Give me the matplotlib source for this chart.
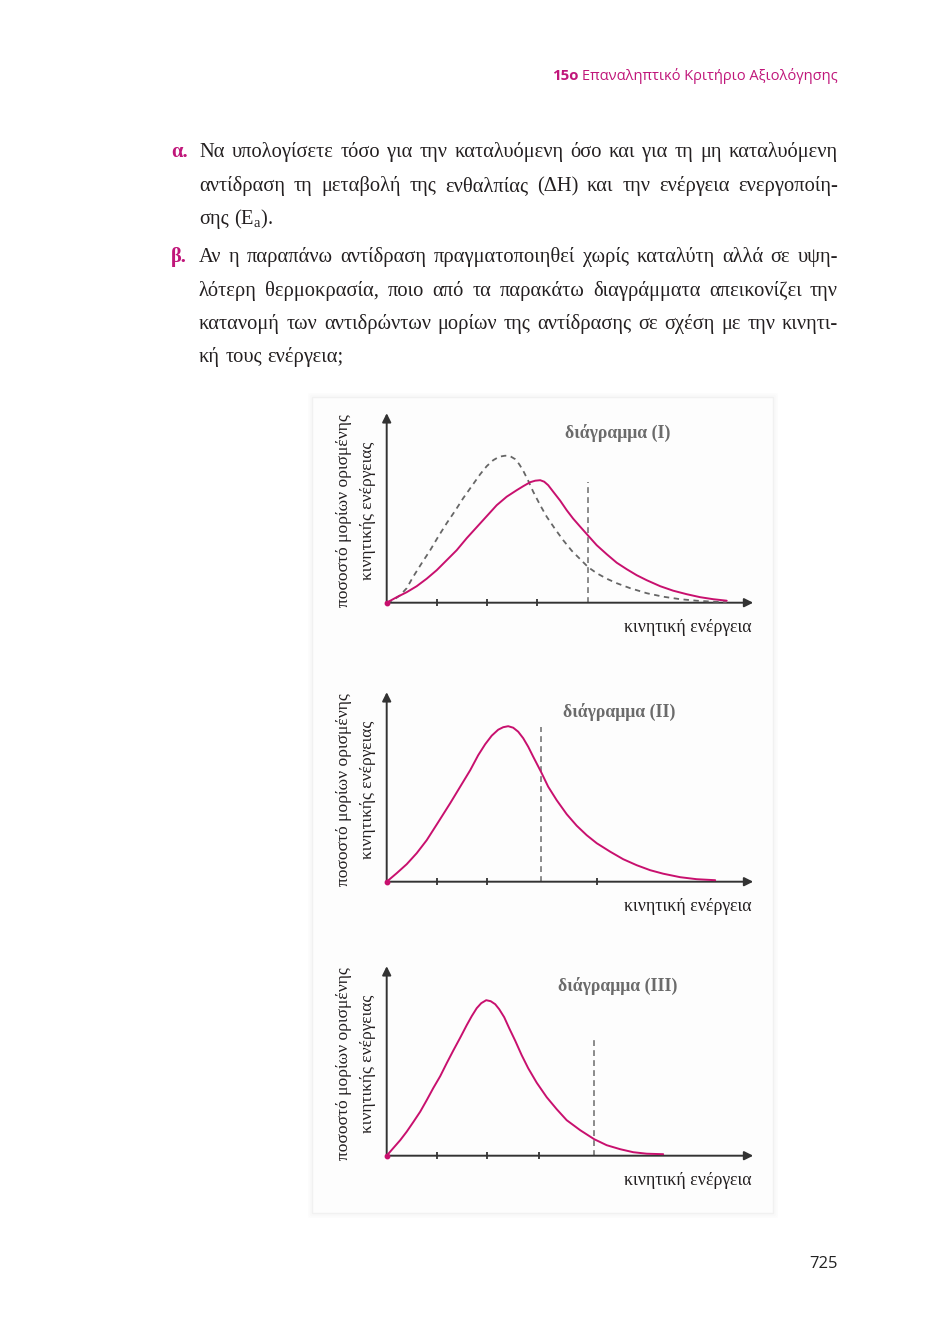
import matplotlib
matplotlib.use("Agg")
import matplotlib.pyplot as plt
from matplotlib.patches import Rectangle

plt.rcParams['mathtext.fontset'] = 'custom'
plt.rcParams['mathtext.rm'] = 'Liberation Serif'
plt.rcParams['mathtext.it'] = 'Liberation Serif:italic'

# ---------------- data ----------------
header_bold = "15ο"
header_text = "Επαναληπτικό Κριτήριο Αξιολόγησης"
page_number = "725"

para_a_label = "α."
para_a_lines = [
    "Να υπολογίσετε τόσο για την καταλυόμενη όσο και για τη μη καταλυόμενη",
    "αντίδραση τη μεταβολή της ενθαλπίας (ΔΗ) και την ενέργεια ενεργοποίη-",
    r"σης (${\mathrm{E}}_{\mathrm{a}}$).",
]
para_b_label = "β."
para_b_lines = [
    "Αν η παραπάνω αντίδραση πραγματοποιηθεί χωρίς καταλύτη αλλά σε υψη-",
    "λότερη θερμοκρασία, ποιο από τα παρακάτω διαγράμματα απεικονίζει την",
    "κατανομή των αντιδρώντων μορίων της αντίδρασης σε σχέση με την κινητι-",
    "κή τους ενέργεια;",
]

diagram_titles = ["διάγραμμα (I)", "διάγραμμα (II)", "διάγραμμα (III)"]
x_label = "κινητική ενέργεια"
y_label = "ποσοστό μορίων ορισμένης\nκινητικής ενέργειας"

# diagram I: solid (higher temperature) and dashed (reference) curves
d1_solid_x = [0, 0.20, 0.40, 0.60, 0.80, 1.00, 1.20, 1.40, 1.60, 1.80, 2.00, 2.20,
              2.40, 2.60, 2.73, 2.87, 2.97, 3.07, 3.15, 3.23, 3.33, 3.47, 3.60,
              3.73, 3.87, 4.03, 4.20, 4.40, 4.60, 4.80, 5.00, 5.20, 5.47, 5.73,
              6.00, 6.27, 6.53, 6.80]
d1_solid_y = [0, 0.11, 0.21, 0.33, 0.48, 0.65, 0.85, 1.05, 1.29, 1.51, 1.73, 1.95,
              2.12, 2.25, 2.33, 2.41, 2.44, 2.45, 2.42, 2.35, 2.22, 2.04, 1.85,
              1.68, 1.52, 1.34, 1.15, 0.97, 0.80, 0.67, 0.55, 0.45, 0.33, 0.24,
              0.17, 0.11, 0.07, 0.04]
d1_dash_x = [0, 0.13, 0.27, 0.40, 0.53, 0.70, 0.87, 1.03, 1.20, 1.37, 1.53, 1.70,
             1.87, 2.00, 2.13, 2.25, 2.37, 2.47, 2.57, 2.65, 2.73, 2.83, 2.93,
             3.07, 3.20, 3.37, 3.53, 3.70, 3.87, 4.03, 4.20, 4.40, 4.60, 4.87,
             5.20, 5.53, 5.87, 6.20, 6.53, 6.80]
d1_dash_y = [0, 0.05, 0.15, 0.29, 0.52, 0.79, 1.05, 1.32, 1.59, 1.84, 2.09, 2.33,
             2.57, 2.73, 2.85, 2.92, 2.94, 2.93, 2.87, 2.77, 2.64, 2.44, 2.22,
             1.95, 1.72, 1.47, 1.25, 1.04, 0.87, 0.71, 0.59, 0.48, 0.39, 0.29,
             0.19, 0.12, 0.07, 0.04, 0.02, 0.01]
d1_ea = 4.02
d1_ea_top = 2.41
d1_ticks = [1, 2, 3]

d2_x = [0, 0.20, 0.40, 0.60, 0.80, 1.03, 1.27, 1.47, 1.67, 1.83, 1.97, 2.10, 2.23,
        2.33, 2.43, 2.53, 2.63, 2.73, 2.83, 2.93, 3.09, 3.23, 3.40, 3.60, 3.80,
        4.00, 4.20, 4.47, 4.73, 5.00, 5.27, 5.53, 5.87, 6.20, 6.57]
d2_y = [0, 0.17, 0.35, 0.57, 0.83, 1.19, 1.57, 1.90, 2.23, 2.53, 2.75, 2.92, 3.04,
        3.09, 3.11, 3.08, 3.00, 2.87, 2.70, 2.50, 2.19, 1.90, 1.63, 1.35, 1.12,
        0.93, 0.77, 0.60, 0.45, 0.33, 0.23, 0.16, 0.09, 0.05, 0.03]
d2_ea = 3.09
d2_ea_top = 3.09
d2_ticks = [1, 2, 4.2]

d3_x = [0, 0.13, 0.27, 0.40, 0.53, 0.67, 0.80, 0.93, 1.07, 1.20, 1.33, 1.47, 1.60,
        1.70, 1.80, 1.89, 1.99, 2.08, 2.17, 2.25, 2.35, 2.45, 2.57, 2.70, 2.83,
        3.00, 3.20, 3.40, 3.60, 3.87, 4.15, 4.40, 4.67, 4.93, 5.20, 5.53]
d3_y = [0, 0.15, 0.31, 0.48, 0.67, 0.88, 1.11, 1.35, 1.59, 1.85, 2.10, 2.36, 2.61,
        2.79, 2.95, 3.05, 3.11, 3.09, 3.03, 2.93, 2.77, 2.55, 2.30, 2.01, 1.75,
        1.46, 1.17, 0.93, 0.71, 0.51, 0.33, 0.21, 0.13, 0.07, 0.04, 0.03]
d3_ea = 4.15
d3_ea_top = 2.39
d3_ticks = [1, 2, 3.05]

# ---------------- style ----------------
W, H = 937, 1323
MAGENTA = '#c8106e'
HEAD = '#c0167a'
TXT = '#231f20'
GRAY_T = '#6b6b6b'
AXC = '#333333'
SERIF = ['Liberation Serif', 'DejaVu Serif']
SANS = ['Open Sans', 'DejaVu Sans']

fig = plt.figure(figsize=(W / 100, H / 100), dpi=100)
fig.patch.set_facecolor('white')
page = fig.add_axes([0, 0, 1, 1])
page.set_xlim(0, W)
page.set_ylim(H, 0)
page.axis('off')
renderer = fig.canvas.get_renderer()


def width_of(t):
    return t.get_window_extent(renderer).width


def line(text, x0, x1, y, fs, justify):
    words = text.split(' ')
    objs = [page.text(0, y, w, fontsize=fs, family=SERIF, color=TXT,
                      va='baseline', ha='left') for w in words]
    ws = [width_of(o) for o in objs]
    if justify and len(words) > 1:
        gap = (x1 - x0 - sum(ws)) / (len(words) - 1)
    else:
        gap = fs * 100 / 72 * 0.25
    x = x0
    for o, w in zip(objs, ws):
        o.set_x(x)
        x += w + gap


# header
ht = page.text(838, 80, header_text, fontsize=10.5, family=SANS, color=HEAD,
               ha='right', va='baseline')
hw = width_of(ht)
page.text(838 - hw - 4, 80, header_bold, fontsize=10.8, family=SANS, color=HEAD,
          ha='right', va='baseline', fontweight='bold')

# paragraphs
FS = 14.8
X0, X1 = 199, 838
base_a = [157, 191, 224]
base_b = [262, 296, 329, 362]
page.text(171, base_a[0], para_a_label, fontsize=FS, family=SERIF, color=HEAD,
          fontweight='bold', va='baseline')
for i, (txt, yb) in enumerate(zip(para_a_lines, base_a)):
    line(txt, X0, X1, yb, FS, i < len(para_a_lines) - 1)
page.text(171, base_b[0], para_b_label, fontsize=FS, family=SERIF, color=HEAD,
          fontweight='bold', va='baseline')
for i, (txt, yb) in enumerate(zip(para_b_lines, base_b)):
    line(txt, X0, X1, yb, FS, i < len(para_b_lines) - 1)

# panel with faint shadow
for k, a in enumerate([0.018, 0.014, 0.010, 0.006]):
    page.add_patch(Rectangle((312 - k - 1, 397 - k - 1), 461 + 2 * k + 2, 816 + 2 * k + 2,
                             facecolor='none', edgecolor='black', lw=1, alpha=a))
page.add_patch(Rectangle((312, 397), 461, 816, facecolor='#fdfdfd', edgecolor='#f1f1f1', lw=1))

# page number
page.text(838, 1268, page_number, fontsize=12, family=SANS, color='#222222',
          ha='right', va='baseline')

# ---------------- diagrams ----------------
PX = 50.0
XL = (-0.3, 7.5)
YL = (-0.3, 3.95)
origins = [(386.7, 602.7), (386.7, 881.7), (386.7, 1155.7)]
curves = [
    [(d1_solid_x, d1_solid_y, '-'), (d1_dash_x, d1_dash_y, '--')],
    [(d2_x, d2_y, '-')],
    [(d3_x, d3_y, '-')],
]
eas = [(d1_ea, d1_ea_top), (d2_ea, d2_ea_top), (d3_ea, d3_ea_top)]
ticks = [d1_ticks, d2_ticks, d3_ticks]
title_pos = [(618, 433), (619, 712), (618, 986)]

for i, (ox, oy) in enumerate(origins):
    left = ox + XL[0] * PX
    right = ox + XL[1] * PX
    top = oy - YL[1] * PX
    bottom = oy - YL[0] * PX
    ax = fig.add_axes([left / W, 1 - bottom / H, (right - left) / W, (bottom - top) / H])
    ax.set_xlim(*XL)
    ax.set_ylim(*YL)
    ax.axis('off')
    ax.patch.set_alpha(0)

    # axes with arrows
    ax.annotate('', xy=(7.33, 0), xytext=(0, 0),
                arrowprops=dict(arrowstyle='-|>', color=AXC, lw=1.4,
                                mutation_scale=13, shrinkA=0, shrinkB=0))
    ax.annotate('', xy=(0, 3.79), xytext=(0, 0),
                arrowprops=dict(arrowstyle='-|>', color=AXC, lw=1.4,
                                mutation_scale=13, shrinkA=0, shrinkB=0))
    ax.vlines(ticks[i], -0.07, 0.07, color=AXC, lw=1.3)

    ea, eatop = eas[i]
    ax.vlines([ea], 0, eatop, color='#777777', lw=1.2, linestyles=(0, (3.5, 2.5)))

    for xs, ys, ls in curves[i]:
        if ls == '-':
            ax.plot(xs, ys, color=MAGENTA, lw=1.4, solid_joinstyle='round',
                    solid_capstyle='round', zorder=4)
        else:
            ax.plot(xs, ys, color='#666666', lw=1.3, linestyle=(0, (3, 2.5)), zorder=3)
    ax.plot([0], [0], 'o', color=MAGENTA, ms=3.2, zorder=5)

    # texts
    tx, ty = title_pos[i]
    page.text(tx, ty, diagram_titles[i], fontsize=12.8, family=SERIF, color=GRAY_T,
              fontweight='bold', ha='center', va='center')
    page.text(752, oy + 25, x_label, fontsize=12.9, family=SERIF, color=TXT,
              ha='right', va='center')
    page.text(356, oy - 92, y_label, fontsize=12.6, family=SERIF, color=TXT,
              ha='center', va='center', rotation=90, linespacing=1.6,
              multialignment='center')

fig.savefig('out.png', dpi=100, facecolor='white')
